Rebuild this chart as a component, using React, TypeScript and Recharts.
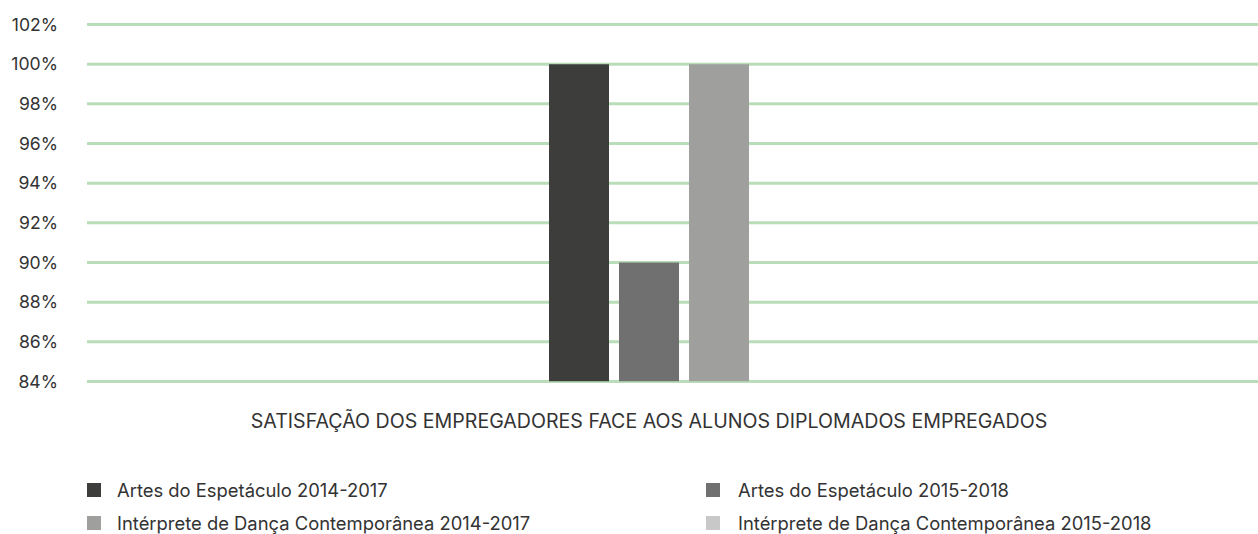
import React from "react";
import { BarChart, Bar, XAxis, YAxis, CartesianGrid } from "recharts";

const categories = ["SATISFAÇÃO DOS EMPREGADORES FACE AOS ALUNOS DIPLOMADOS EMPREGADOS"];
const seriesNames = [
  "Artes do Espetáculo 2014-2017",
  "Artes do Espetáculo 2015-2018",
  "Intérprete de Dança Contemporânea 2014-2017",
  "Intérprete de Dança Contemporânea 2015-2018",
];
const artes1417 = [100];
const artes1518 = [90];
const danca1417 = [100];
const seriesColors = ["#3d3d3b", "#707070", "#9f9f9e", "#c8c8c8"];
const yTicks = [84, 86, 88, 90, 92, 94, 96, 98, 100, 102];

const data = categories.map((c, i) => ({
  name: c,
  s0: artes1417[i],
  s1: artes1518[i],
  s2: danca1417[i],
}));

const FONT = "Inter, 'Noto Sans', sans-serif";
const TEXT = "#333333";

const XTick = (props: any) => {
  const { x, y, payload } = props;
  return (
    <text x={x} y={y} dy={44} textAnchor="middle" fill={TEXT} fontSize={19.6} fontFamily={FONT}>
      {payload.value}
    </text>
  );
};

const LegendBlock = () => {
  const cols = [
    { left: 87, textLeft: 117 },
    { left: 706, textLeft: 738 },
  ];
  const rows = [490, 523];
  return (
    <>
      {seriesNames.map((n, i) => {
        const col = cols[i % 2];
        const rowY = rows[Math.floor(i / 2)];
        return (
          <React.Fragment key={n}>
            <div
              style={{
                position: "absolute",
                left: col.left,
                top: rowY - 7,
                width: 14,
                height: 14,
                background: seriesColors[i],
              }}
            />
            <div
              style={{
                position: "absolute",
                left: col.textLeft,
                top: rowY - 12,
                height: 24,
                lineHeight: "24px",
                fontSize: 18.4,
                fontFamily: FONT,
                color: TEXT,
                whiteSpace: "nowrap",
              }}
            >
              {n}
            </div>
          </React.Fragment>
        );
      })}
    </>
  );
};

export default function App() {
  return (
    <div style={{ position: "absolute", left: 0, top: 0, width: 1258, height: 534, background: "#fff", overflow: "hidden" }}>
      <BarChart
        width={1258}
        height={534}
        data={data}
        margin={{ top: 24.5, right: 0, bottom: 112.5, left: 0 }}
        barGap={10}
        barSize={60}
      >
        <CartesianGrid vertical={false} stroke="#b9dcb9" strokeWidth={3} />
        <XAxis
          dataKey="name"
          axisLine={false}
          tickLine={false}
          tickSize={0}
          tick={<XTick />}
          padding={{ left: 0, right: 47 }}
          height={40}
        />
        <YAxis
          type="number"
          domain={[84, 102]}
          ticks={yTicks}
          interval={0}
          allowDataOverflow
          axisLine={false}
          tickLine={false}
          tickSize={0}
          tickMargin={29}
          width={87}
          tickFormatter={(v: number) => `${v}%`}
          tick={{ fill: TEXT, fontSize: 17.6, fontFamily: FONT }}
        />
        <Bar dataKey="s0" name={seriesNames[0]} fill={seriesColors[0]} isAnimationActive={false} />
        <Bar dataKey="s1" name={seriesNames[1]} fill={seriesColors[1]} isAnimationActive={false} />
        <Bar dataKey="s2" name={seriesNames[2]} fill={seriesColors[2]} isAnimationActive={false} />
      </BarChart>
      <LegendBlock />
    </div>
  );
}
